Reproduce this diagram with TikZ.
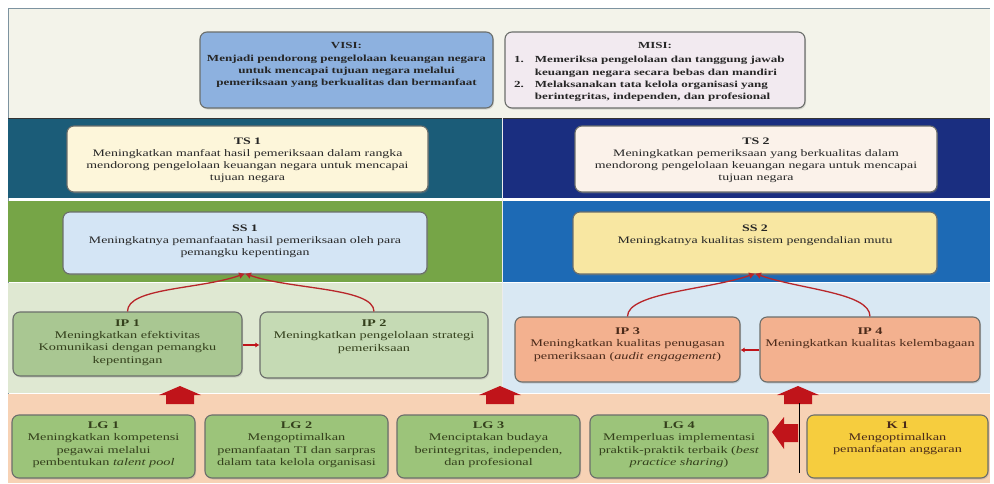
\documentclass[tikz,border=0pt]{standalone}
\usepackage{fontspec}
\setmainfont{Liberation Serif}[FakeStretch=1.4]
\usetikzlibrary{arrows.meta,shadows}
\definecolor{topbg}{HTML}{F3F3EA}
\definecolor{topline}{HTML}{7D93A0}
\definecolor{tsL}{HTML}{1B5C78}
\definecolor{tsR}{HTML}{1A2E80}
\definecolor{ssL}{HTML}{76A547}
\definecolor{ssR}{HTML}{1D6AB5}
\definecolor{ipL}{HTML}{DFE8D2}
\definecolor{ipR}{HTML}{D9E8F3}
\definecolor{lgbg}{HTML}{F7D2B5}
\definecolor{visiC}{HTML}{8DB1DF}
\definecolor{misiC}{HTML}{F2EAF0}
\definecolor{tsoneC}{HTML}{FDF6DA}
\definecolor{tstwoC}{HTML}{FBF2EA}
\definecolor{ssoneC}{HTML}{D4E5F5}
\definecolor{sstwoC}{HTML}{F8E7A2}
\definecolor{iponeC}{HTML}{A9C792}
\definecolor{iptwoC}{HTML}{C5DAB4}
\definecolor{salmonC}{HTML}{F3B18F}
\definecolor{lgC}{HTML}{9CC47A}
\definecolor{koneC}{HTML}{F6CD3E}
\definecolor{boxline}{HTML}{6B6E6B}
\definecolor{txtc}{HTML}{262626}
\definecolor{greentxt}{HTML}{34401C}
\definecolor{browntxt}{HTML}{4A2A1A}
\definecolor{redA}{HTML}{C0141A}
\definecolor{curveC}{HTML}{B8262A}
\tikzset{
  box/.style={draw=boxline, line width=1.1pt, rounded corners=7pt, inner sep=0pt,
    drop shadow={opacity=0.25, shadow xshift=1pt, shadow yshift=-1.5pt}},
  txt/.style={align=center, anchor=north, inner sep=0pt, text=txtc,
    font=\fontsize{9.9}{12}\selectfont},
  lowtxt/.style={txt, font=\fontsize{10.2}{12.3}\selectfont},
  headtxt/.style={txt, font=\bfseries\fontsize{9.3}{12.3}\selectfont},
  curve/.style={draw=curveC, line width=1.3pt, -{Latex[length=6pt,width=7pt]}},
  smallarrow/.style={draw=redA, line width=1.3pt, -{Latex[length=4pt,width=5pt]}},
  blockarrow/.style={fill=redA, draw=none},
}
\begin{document}
\begin{tikzpicture}[x=1pt,y=-1pt]
\useasboundingbox (0,0) rectangle (994,483);
\fill[white] (0,0) rectangle (994,483);
% bands
\fill[topbg] (8,8) rectangle (990,118);
\draw[topline, line width=1pt] (8,8) -- (990,8);
\draw[topline, line width=0.8pt] (8,8) -- (8,483);
\fill[tsL] (8,118) rectangle (502,198);
\fill[tsR] (502,118) rectangle (990,198);
\draw[black!80, line width=1.2pt] (8,118.5) -- (990,118.5);
\fill[ssL] (8,201) rectangle (502,282);
\fill[ssR] (502,201) rectangle (990,282);
\fill[ipL] (8,283) rectangle (502,393);
\fill[ipR] (502,283) rectangle (990,393);
\fill[lgbg] (8,394) rectangle (990,483);
\draw[white!85!gray, line width=0.8pt] (502,118) -- (502,393);

% VISI / MISI
\node[box, fill=visiC, minimum width=293pt, minimum height=76pt] (visi) at (346.5,70) {};
\node[headtxt] (visit) at ([yshift=-11pt]visi.north)
  {VISI:\\Menjadi pendorong pengelolaan keuangan negara\\untuk mencapai tujuan negara melalui\\pemeriksaan yang berkualitas dan bermanfaat};
\node[box, fill=misiC, minimum width=300pt, minimum height=76pt] (misi) at (655,70) {};
\node[headtxt] (misit) at ([yshift=-11pt]misi.north) {MISI:};
\node[headtxt, anchor=north west, align=left] (misil) at (514,54)
  {\begin{tabular}{@{}l@{\hspace{11pt}}l@{}}
   1. & Memeriksa pengelolaan dan tanggung jawab\\
      & keuangan negara secara bebas dan mandiri\\
   2. & Melaksanakan tata kelola organisasi yang\\
      & berintegritas, independen, dan profesional
   \end{tabular}};

% TS
\node[box, fill=tsoneC, minimum width=361pt, minimum height=66pt] (ts1) at (247.5,159) {};
\node[txt] (ts1t) at ([yshift=-12pt]ts1.north)
  {\textbf{TS 1}\\Meningkatkan manfaat hasil pemeriksaan dalam rangka\\mendorong pengelolaan keuangan negara untuk mencapai\\tujuan negara};
\node[box, fill=tstwoC, minimum width=362pt, minimum height=66pt] (ts2) at (756,159) {};
\node[txt] (ts2t) at ([yshift=-12pt]ts2.north)
  {\textbf{TS 2}\\Meningkatkan pemeriksaan yang berkualitas dalam\\mendorong pengelolaan keuangan negara untuk mencapai\\tujuan negara};

% SS
\node[box, fill=ssoneC, minimum width=364pt, minimum height=62pt] (ss1) at (245,243) {};
\node[txt] (ss1t) at ([yshift=-13pt]ss1.north)
  {\textbf{SS 1}\\Meningkatnya pemanfaatan hasil pemeriksaan oleh para\\pemangku kepentingan};
\node[box, fill=sstwoC, minimum width=364pt, minimum height=62pt] (ss2) at (755,243) {};
\node[txt] (ss2t) at ([yshift=-13pt]ss2.north)
  {\textbf{SS 2}\\Meningkatnya kualitas sistem pengendalian mutu};

% IP
\node[box, fill=iponeC, minimum width=229pt, minimum height=64pt] (ip1) at (127.5,344) {};
\node[lowtxt, text=greentxt] (ip1t) at ([yshift=-8pt]ip1.north)
  {\textbf{IP 1}\\Meningkatkan efektivitas\\Komunikasi dengan pemangku\\kepentingan};
\node[box, fill=iptwoC, minimum width=228pt, minimum height=66pt] (ip2) at (374,345) {};
\node[lowtxt, text=greentxt] (ip2t) at ([yshift=-8pt]ip2.north)
  {\textbf{IP 2}\\Meningkatkan pengelolaan strategi\\pemeriksaan};
\node[box, fill=salmonC, minimum width=225pt, minimum height=65pt] (ip3) at (627.5,349.5) {};
\node[lowtxt, text=browntxt] (ip3t) at ([yshift=-11pt]ip3.north)
  {\textbf{IP 3}\\Meningkatkan kualitas penugasan\\pemeriksaan (\textit{audit engagement})};
\node[box, fill=salmonC, minimum width=220pt, minimum height=65pt] (ip4) at (870,349.5) {};
\node[lowtxt, text=browntxt] (ip4t) at ([yshift=-11pt]ip4.north)
  {\textbf{IP 4}\\Meningkatkan kualitas kelembagaan};

% LG / K
\node[box, fill=lgC, minimum width=183pt, minimum height=63pt] (lg1) at (103.5,446.5) {};
\node[lowtxt, text=greentxt] (lg1t) at ([yshift=-7pt]lg1.north)
  {\textbf{LG 1}\\Meningkatkan kompetensi\\pegawai melalui\\pembentukan \textit{talent pool}};
\node[box, fill=lgC, minimum width=183pt, minimum height=63pt] (lg2) at (296.5,446.5) {};
\node[lowtxt, text=greentxt] (lg2t) at ([yshift=-7pt]lg2.north)
  {\textbf{LG 2}\\Mengoptimalkan\\pemanfaatan TI dan sarpras\\dalam tata kelola organisasi};
\node[box, fill=lgC, minimum width=183pt, minimum height=63pt] (lg3) at (488.5,446.5) {};
\node[lowtxt, text=greentxt] (lg3t) at ([yshift=-7pt]lg3.north)
  {\textbf{LG 3}\\Menciptakan budaya\\berintegritas, independen,\\dan profesional};
\node[box, fill=lgC, minimum width=178pt, minimum height=63pt] (lg4) at (679,446.5) {};
\node[lowtxt, text=greentxt] (lg4t) at ([yshift=-7pt]lg4.north)
  {\textbf{LG 4}\\Memperluas implementasi\\praktik-praktik terbaik (\textit{best}\\\textit{practice sharing})};
\node[box, fill=koneC, minimum width=181pt, minimum height=63pt] (k1) at (897.5,446.5) {};
\node[lowtxt, text=browntxt] (k1t) at ([yshift=-7pt]k1.north)
  {\textbf{K 1}\\Mengoptimalkan\\pemanfaatan anggaran};

% curves to SS
\draw[curve] (ip1.north) .. controls +(0,-24) and +(-45,16) .. ([yshift=1pt]ss1.south);
\draw[curve] (ip2.north) .. controls +(0,-24) and +(45,16) .. ([yshift=1pt]ss1.south);
\draw[curve] (ip3.north) .. controls +(0,-24) and +(-45,16) .. ([yshift=1pt]ss2.south);
\draw[curve] (ip4.north) .. controls +(0,-24) and +(45,16) .. ([yshift=1pt]ss2.south);

% small arrows between IP boxes
\draw[smallarrow] (ip1.east |- 0,345) -- (ip2.west |- 0,345);
\draw[smallarrow] (ip4.west |- 0,350) -- (ip3.east |- 0,350);

% block arrows
\foreach \cx in {180,500,798}{
  \fill[blockarrow] (\cx-14,404) -- (\cx-14,395) -- (\cx-21,395) -- (\cx,386)
     -- (\cx+21,395) -- (\cx+14,395) -- (\cx+14,404) -- cycle;
}
\fill[blockarrow] (798,424) -- (784,424) -- (784,417) -- (772,432) -- (784,449)
   -- (784,442) -- (798,442) -- cycle;
\draw[black, line width=1.5pt] (799.5,403) -- (799.5,473);
\end{tikzpicture}
\end{document}
